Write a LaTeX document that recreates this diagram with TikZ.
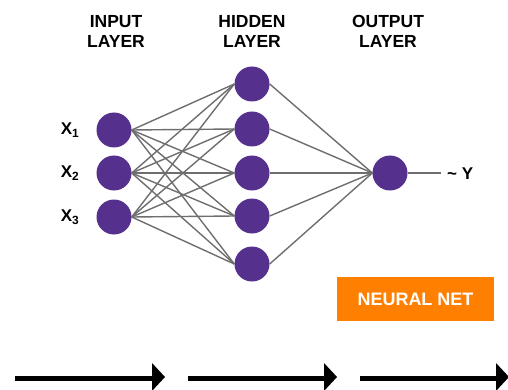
\documentclass[tikz,border=0pt]{standalone}
\usepackage{fontspec}
\setmainfont{Liberation Sans}
\begin{document}
\begin{tikzpicture}[x=1pt,y=-1pt,
  neuron/.style={circle,fill=nnpurple,minimum size=35pt,inner sep=0pt},
  edge/.style={draw=nngray,line width=1.4pt},
  head/.style={font=\fontsize{17.5}{20}\selectfont\bfseries,align=center,inner sep=0pt},
  lbl/.style={font=\fontsize{17}{19}\selectfont\bfseries,inner sep=0pt},
  flow/.style={line width=5pt}]
\definecolor{nnpurple}{HTML}{55308D}
\definecolor{nngray}{HTML}{6E6E6E}
\definecolor{nnorange}{HTML}{FF8000}
\useasboundingbox (0,0) rectangle (508,390);
\node[head] (hi) at (116,31) {INPUT\\LAYER};
\node[head] (hh) at (252,31) {HIDDEN\\LAYER};
\node[head] (ho) at (388,31) {OUTPUT\\LAYER};
\foreach \i/\y in {1/130,2/173,3/217}{
  \node[neuron] (i\i) at (114,\y) {};
  \node[lbl] (x\i) at (70,\y) {X\textsubscript{\i}};
}
\foreach \j/\y in {1/84,2/129,3/173,4/216,5/264}{
  \node[neuron] (h\j) at (252,\y) {};
}
\node[neuron] (o) at (390,173) {};
\foreach \i in {1,2,3}{\foreach \j in {1,...,5}{\draw[edge] (i\i.east) -- (h\j.west);}}
\foreach \j in {1,...,5}{\draw[edge] (h\j.east) -- (o.west);}
\coordinate (oy) at (441,173);
\draw[edge] (o.east) -- (oy);
\node[lbl,anchor=west] (y) at (447,174) {\textasciitilde{} Y};
\node[fill=nnorange,minimum width=157pt,minimum height=44pt,inner sep=0pt,text=white,font=\fontsize{18}{20}\selectfont\bfseries] (nn) at (415.5,299) {NEURAL NET};
\foreach \k/\xa/\xb in {1/15/152,2/188/324,3/360/496}{
  \coordinate (s\k) at (\xa,378);
  \coordinate (e\k) at (\xb,378);
  \draw[flow] (s\k) -- (e\k);
  \fill (\xb,363) -- (\xb+13,377) -- (\xb,391) -- cycle;
}
\end{tikzpicture}
\end{document}
